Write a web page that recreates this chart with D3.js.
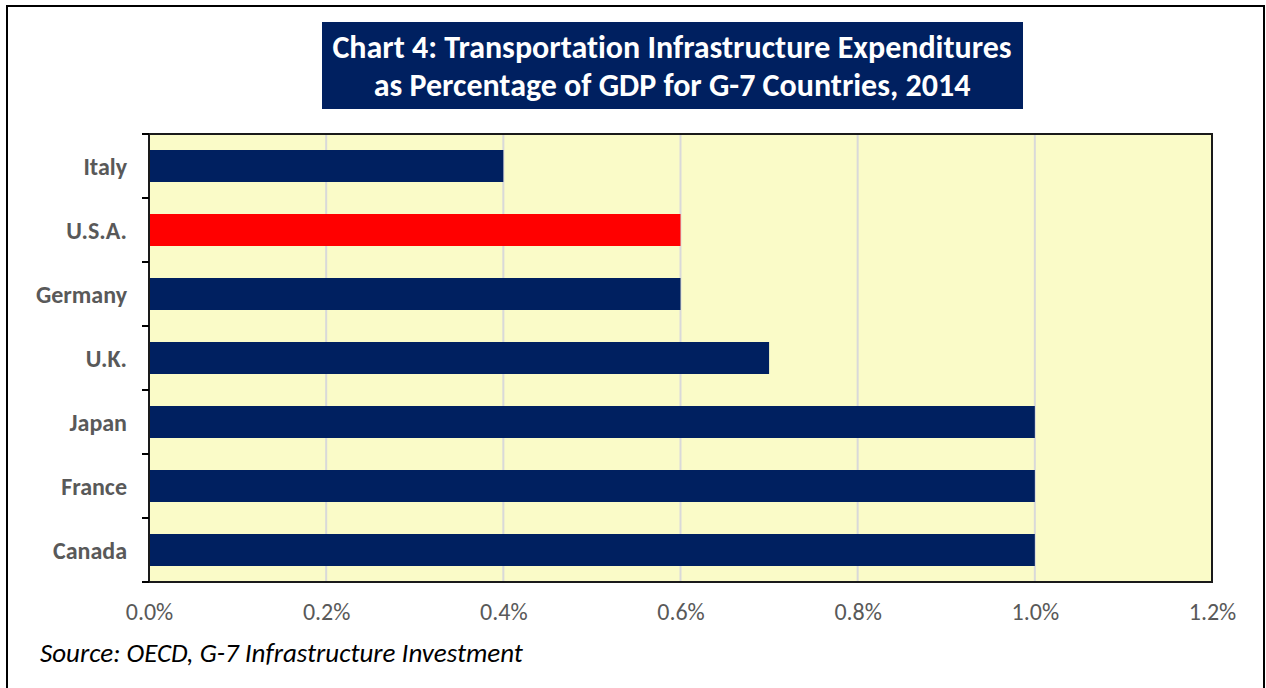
<!DOCTYPE html>
<html lang="en">
<head>
<meta charset="UTF-8">
<title>Chart 4</title>
<script src="https://d3js.org/d3.v7.min.js"></script>
<style>
body { margin:0; background:#fff; font-family: Carlito, Lato, "Liberation Sans", sans-serif; font-variant-ligatures: none; }
text { font-variant-ligatures: none; }
</style>
</head>
<body>
<div id="chart"></div>
<script>
// data
var countries = ["Italy", "U.S.A.", "Germany", "U.K.", "Japan", "France", "Canada"];
var values = [0.4, 0.6, 0.6, 0.7, 1.0, 1.0, 1.0];
var barColors = ["#002060", "#FF0000", "#002060", "#002060", "#002060", "#002060", "#002060"];
var xTicks = [0, 0.2, 0.4, 0.6, 0.8, 1.0, 1.2];

var W = 1266, H = 688;
var margin = {top: 134, right: 54, bottom: 106, left: 149};
var width = W - margin.left - margin.right,
    height = H - margin.top - margin.bottom;

var svg = d3.select("#chart").append("svg")
    .attr("width", W).attr("height", H);

// outer frame
svg.append("rect")
    .attr("x", 7).attr("y", 6).attr("width", 1257).attr("height", 690)
    .attr("fill", "none").attr("stroke", "#000").attr("stroke-width", 2);

// title box
svg.append("rect")
    .attr("x", 322).attr("y", 22).attr("width", 701).attr("height", 87)
    .attr("fill", "#002060");
svg.append("text")
    .attr("x", 672).attr("y", 58)
    .attr("text-anchor", "middle")
    .attr("fill", "#fff").style("font-size", "32px").style("font-weight", "bold")
    .text("Chart 4: Transportation Infrastructure Expenditures");
svg.append("text")
    .attr("x", 672).attr("y", 96)
    .attr("text-anchor", "middle")
    .attr("fill", "#fff").style("font-size", "32px").style("font-weight", "bold")
    .text("as Percentage of GDP for G-7 Countries, 2014");

var g = svg.append("g")
    .attr("transform", "translate(" + margin.left + "," + margin.top + ")");

var x = d3.scaleLinear().domain([0, 1.2]).range([0, width]);
var y = d3.scaleBand().domain(countries).range([0, height]).paddingInner(0.5).paddingOuter(0.25);

// plot background
g.append("rect")
    .attr("width", width).attr("height", height)
    .attr("fill", "#FAFBC8");

// gridlines
g.selectAll(".grid").data(xTicks.slice(1, -1)).enter().append("line")
    .attr("x1", function(d) { return x(d); }).attr("x2", function(d) { return x(d); })
    .attr("y1", 0).attr("y2", height)
    .attr("stroke", "#D9D9D9").attr("stroke-width", 2);

// bars
g.selectAll(".bar").data(countries).enter().append("rect")
    .attr("x", 0)
    .attr("y", function(d) { return y(d); })
    .attr("width", function(d, i) { return x(values[i]); })
    .attr("height", y.bandwidth())
    .attr("fill", function(d, i) { return barColors[i]; });

// border of plot
g.append("rect")
    .attr("width", width).attr("height", height)
    .attr("fill", "none").attr("stroke", "#1a1a1a").attr("stroke-width", 2);

// y ticks between categories
var step = height / countries.length;
g.selectAll(".ytick").data(d3.range(countries.length + 1)).enter().append("line")
    .attr("x1", -7).attr("x2", 0)
    .attr("y1", function(d) { return d * step; }).attr("y2", function(d) { return d * step; })
    .attr("stroke", "#000").attr("stroke-width", 2);

// y labels
g.selectAll(".ylab").data(countries).enter().append("text")
    .attr("x", -22)
    .attr("y", function(d) { return y(d) + y.bandwidth() / 2; })
    .attr("dy", "0.36em")
    .attr("text-anchor", "end")
    .attr("fill", "#595959")
    .style("font-size", "24px").style("font-weight", "bold")
    .text(function(d) { return d; });

// x axis labels
var xAxis = d3.axisBottom(x).tickValues(xTicks).tickSize(0).tickPadding(21)
    .tickFormat(function(d) { return d.toFixed(1) + "%"; });
var ax = g.append("g").attr("transform", "translate(0," + height + ")").call(xAxis);
ax.select(".domain").remove();
ax.selectAll("text").attr("fill", "#595959").style("font-size", "24px")
    .style("font-family", "Carlito, Lato, 'Liberation Sans', sans-serif");

// source
svg.append("text")
    .attr("x", 40).attr("y", 662)
    .attr("fill", "#000").style("font-size", "27px").style("font-style", "italic")
    .text("Source: OECD, G-7 Infrastructure Investment");
</script>
</body>
</html>
